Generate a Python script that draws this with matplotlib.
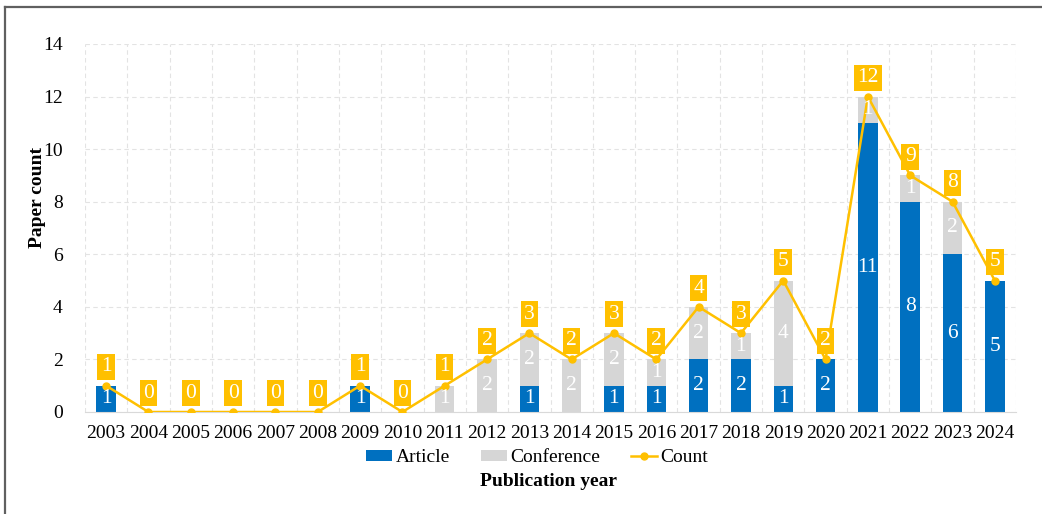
import numpy as np
import matplotlib.pyplot as plt
from matplotlib.lines import Line2D

plt.rcParams['font.family'] = ['Liberation Serif', 'DejaVu Serif']

# data
years = list(range(2003, 2025))
article = [1, 0, 0, 0, 0, 0, 1, 0, 0, 0, 1, 0, 1, 1, 2, 2, 1, 2, 11, 8, 6, 5]
conference = [0, 0, 0, 0, 0, 0, 0, 0, 1, 2, 2, 2, 2, 1, 2, 1, 4, 0, 1, 1, 2, 0]
count = [a + c for a, c in zip(article, conference)]

blue = '#0070C0'
grey = '#D6D6D6'
gold = '#FFC000'

fig = plt.figure(figsize=(10.42, 5.14), dpi=100)
ax = fig.add_axes([85/1042, 1 - 412/514, (1016 - 85)/1042, (412 - 44)/514])

x = np.arange(len(years))
w = 0.46
b1 = ax.bar(x, article, w, color=blue, label='Article', zorder=2)
b2 = ax.bar(x, conference, w, bottom=article, color=grey, label='Conference', zorder=2)
ln, = ax.plot(x, count, color=gold, lw=1.8, marker='o', ms=5, label='Count', zorder=3)

# numbers inside the bars
for i in range(len(years)):
    if article[i] > 0:
        ax.text(x[i], article[i] / 2, str(article[i]), color='white',
                ha='center', va='center', fontsize=15.5, zorder=4)
    if conference[i] > 0:
        ax.text(x[i], article[i] + conference[i] / 2, str(conference[i]),
                color='white', ha='center', va='center', fontsize=15.5, zorder=4)
    # count boxes
    ax.annotate(str(count[i]), (x[i], count[i]), xytext=(0, 13.5),
                textcoords='offset points', ha='center', va='center',
                color='white', fontsize=15.5, zorder=5,
                bbox=dict(boxstyle='square,pad=0.16', fc=gold, ec='none'))

ax.set_xlim(-0.5, len(years) - 0.5)
ax.set_ylim(0, 14)
ax.set_yticks(range(0, 15, 2))
ax.set_xticks(x)
ax.set_xticklabels([str(y) for y in years])
ax.tick_params(axis='both', length=0, labelsize=14)
ax.tick_params(axis='y', pad=16)
ax.tick_params(axis='x', pad=9)

# dashed grid, vertical lines between categories
ax.set_xticks(np.arange(-0.5, len(years)), minor=True)
ax.tick_params(which='minor', length=0)
ax.grid(axis='y', which='major', ls=(0, (4, 3)), color='#E3E3E3', lw=0.8, zorder=0)
ax.grid(axis='x', which='minor', ls=(0, (4, 3)), color='#E3E3E3', lw=0.8, zorder=0)
ax.grid(axis='x', which='major', visible=False)
for s in ['top', 'right', 'left']:
    ax.spines[s].set_visible(False)
ax.spines['bottom'].set_color('#D9D9D9')

fig.text(37/1042, 1 - 198/514, 'Paper count', rotation=90, fontsize=14,
         fontweight='bold', ha='center', va='center')
fig.text(548/1042, 1 - 482/514, 'Publication year', fontsize=14,
         fontweight='bold', ha='center', va='center')

fig.legend(handles=[b1, b2, ln], loc='center', bbox_to_anchor=(537/1042, 1 - 458/514),
           ncol=3, frameon=False, fontsize=14, handlelength=1.35, handleheight=0.5,
           columnspacing=1.6, handletextpad=0.15, borderpad=0)

# partial frame around the figure (top and left only)
fig.add_artist(Line2D([5/1042, 1], [1 - 7/514, 1 - 7/514], color='#606060', lw=1.6))
fig.add_artist(Line2D([5/1042, 5/1042], [0, 1 - 7/514], color='#606060', lw=1.6))

fig.savefig('out.png', dpi=100)
